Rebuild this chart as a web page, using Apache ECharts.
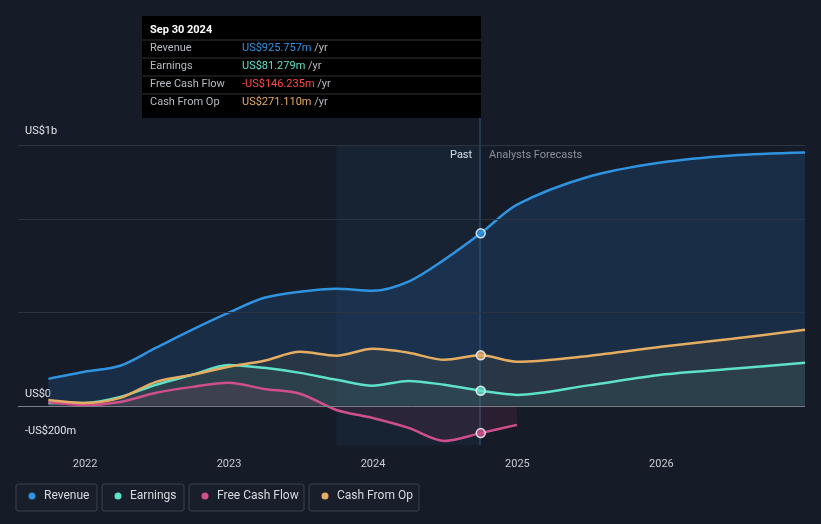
<!DOCTYPE html>
<html><head><meta charset="utf-8">
<script src="https://cdn.jsdelivr.net/npm/echarts@6/dist/echarts.min.js"></script>
<style>html,body{margin:0;background:#151b27;}#main{width:821px;height:524px;}</style>
</head><body><div id="main"></div>
<script>
var pastDates = ['2021-09-30','2021-12-31','2022-03-31','2022-06-30','2022-09-30','2022-12-31','2023-03-31','2023-06-30','2023-09-30','2023-12-31','2024-03-31','2024-06-30','2024-09-30'];
var fcDates = ['2024-12-31','2025-06-30','2025-12-31','2026-06-30','2026-12-31'];
var revenuePast = [145,183,215,312,409,500,580,613,629,618,667,785,925.757];
var revenueFc = [1080,1230,1306,1344,1360];
var earningsPast = [16,16,48,113,167,220,204,177,140,108,134,113,81.279];
var earningsFc = [59,110,167,199,231];
var fcfPast = [21,5,21,70,102,124,91,65,-22,-65,-118,-188,-146.235];
var fcfFc = [-102];
var cfoPast = [32,16,43,129,167,210,242,290,269,306,285,247,271.110];
var cfoFc = [237,268,317,360,409];
var yTicks = [{v:1000,t:'US$1b',y:132},{v:0,t:'US$0',y:395},{v:-200,t:'-US$200m',y:432}];

var colors = {rev:'#2f93e0', earn:'#5fe0c8', fcf:'#cf4f8a', cfo:'#e5ad62'};
function pts(d, v){ return d.map(function(x,i){ return [x, v[i]]; }); }
function full(p, f){ return pts(pastDates,p).concat(pts(fcDates.slice(0,f.length),f)); }
function line(name, data, color, fill){
  return {name:name, type:'line', data:data, symbol:'none', smooth:0.3,
    lineStyle:{color:color, width:2.5}, itemStyle:{color:color},
    areaStyle:{color:fill, origin:0}, z:3};
}
var chart = echarts.init(document.getElementById('main'));
var rev = line('Revenue', full(revenuePast,revenueFc), colors.rev, 'rgba(35,85,140,0.45)');
rev.markArea = {silent:true, itemStyle:{color:'rgba(40,110,180,0.09)'}, data:[[{xAxis:'2023-09-30'},{xAxis:'2024-09-30'}]]};
rev.markLine = {silent:true, symbol:'none', label:{show:false},
  lineStyle:{color:'#2c3442', type:'solid', width:1},
  data:[{yAxis:1400},{yAxis:1000},{yAxis:500},{yAxis:0, lineStyle:{color:'#7a808a'}}]};
var last = pastDates[pastDates.length-1];
chart.setOption({
  backgroundColor:'#151b27',
  animation:false,
  grid:{left:18, right:16, top:145, bottom:79},
  xAxis:{type:'time', min:'2021-07-15', max:'2026-12-31',
    axisLine:{show:false}, axisTick:{show:false}, splitLine:{show:false},
    axisLabel:{color:'#c8ccd2', fontSize:11, fontFamily:'Roboto', margin:14,
      formatter:function(v){ var d=new Date(v); return d.getMonth()===0 && d.getDate()===1 ? String(d.getFullYear()) : ''; }},
    splitNumber:6},
  yAxis:{type:'value', min:-210, max:1400, show:false},
  series:[
    rev,
    line('Earnings', full(earningsPast,earningsFc), colors.earn, 'rgba(60,140,130,0.18)'),
    line('Free Cash Flow', full(fcfPast,fcfFc), colors.fcf, 'rgba(160,60,100,0.22)'),
    line('Cash From Op', full(cfoPast,cfoFc), colors.cfo, 'rgba(150,120,70,0.18)'),
    {type:'scatter', symbolSize:9, z:5,
      itemStyle:{borderColor:'#fff', borderWidth:1.5},
      data:[
        {value:[last,revenuePast[12]], itemStyle:{color:colors.rev}},
        {value:[last,earningsPast[12]], itemStyle:{color:colors.earn}},
        {value:[last,fcfPast[12]], itemStyle:{color:colors.fcf}},
        {value:[last,cfoPast[12]], itemStyle:{color:colors.cfo}}
      ]}
  ],
  graphic: (function(){
    var g = [];
    yTicks.forEach(function(t){ g.push({type:'text', left:25, top:t.y-6, style:{text:t.t, fill:'#e0e3e8', font:'11px Roboto'}}); });
    g.push({type:'line', shape:{x1:480,y1:118,x2:480,y2:445}, style:{stroke:'#3a5a80', lineWidth:1}});
    g.push({type:'text', left:450, top:150, style:{text:'Past', fill:'#e8eaee', font:'11px Roboto'}});
    g.push({type:'text', left:489, top:150, style:{text:'Analysts Forecasts', fill:'#8b919b', font:'11px Roboto'}});
    g.push({type:'rect', shape:{x:142,y:16,width:339,height:102}, style:{fill:'#000'}});
    g.push({type:'text', left:150, top:25, style:{text:'Sep 30 2024', fill:'#fff', font:'bold 11px Roboto'}});
    var rows = [['Revenue','US$925.757m',colors.rev],['Earnings','US$81.279m',colors.earn],['Free Cash Flow','-US$146.235m','#ff4a4a'],['Cash From Op','US$271.110m',colors.cfo]];
    rows.forEach(function(r,i){
      var y = 43 + i*18;
      g.push({type:'line', shape:{x1:142,y1:y-3,x2:481,y2:y-3}, style:{stroke:'#333',lineWidth:1}});
      g.push({type:'text', left:150, top:y, style:{text:r[0], fill:'#b8bcc4', font:'11px Roboto'}});
      g.push({type:'text', left:242, top:y, style:{text:[ '{a|'+r[1]+'}', '{b| /yr}'].join(''),
        rich:{a:{fill:r[2], font:'11px Roboto'}, b:{fill:'#b8bcc4', font:'11px Roboto'}}}});
    });
    var leg = [['Revenue',colors.rev,16,81],['Earnings',colors.earn,102,82],['Free Cash Flow',colors.fcf,189,115],['Cash From Op',colors.cfo,309,110]];
    leg.forEach(function(l){
      g.push({type:'rect', shape:{x:l[2],y:484,width:l[3],height:27,r:2}, style:{fill:'#181e2a', stroke:'#3a414d', lineWidth:1}});
      g.push({type:'circle', shape:{cx:l[2]+16,cy:496,r:3.5}, style:{fill:l[1]}});
      g.push({type:'text', left:l[2]+28, top:490, style:{text:l[0], fill:'#d8dbe0', font:'12px Roboto'}});
    });
    return g;
  })()
});
</script></body></html>
